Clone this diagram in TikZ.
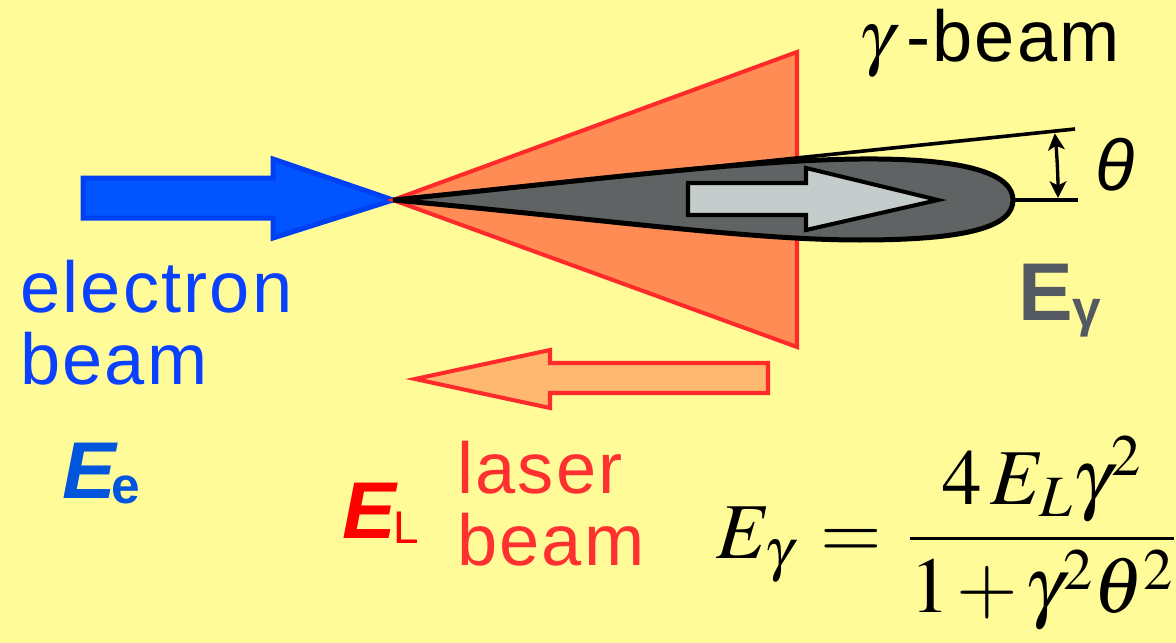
\documentclass[tikz,border=0pt]{standalone}
\usepackage{amsmath}
\usepackage{mathptmx}
\usepackage[no-math]{fontspec}
\newfontfamily\arial[LetterSpace=3]{Liberation Sans}
\newfontfamily\arialsub{Liberation Sans}
\usetikzlibrary{arrows.meta, positioning}

\begin{document}
\begin{tikzpicture}[x=0.72pt, y=-0.72pt,
  txt/.style={inner sep=0pt, anchor=base west},
  grande/.style={font=\arial\fontsize{52}{60}\selectfont}]
% --- cores ---
\definecolor{fundo}{HTML}{FFFB98}
\definecolor{azul}{HTML}{0055FF}
\definecolor{azulborda}{HTML}{0040F5}
\definecolor{azultexto}{HTML}{0A40FF}
\definecolor{azulE}{HTML}{0055DD}
\definecolor{cone}{HTML}{FF8C55}
\definecolor{vermelho}{HTML}{FF2A2A}
\definecolor{lasertexto}{HTML}{FF3030}
\definecolor{laserseta}{HTML}{FFB870}
\definecolor{lobo}{HTML}{5F6363}
\definecolor{setaclara}{HTML}{C5CCCC}
\definecolor{cinzatexto}{HTML}{545860}

% LAYER 0: fundo
\useasboundingbox (0,0) rectangle (1176,643);
\fill[fundo] (0,0) rectangle (1176,643);

\coordinate (apex) at (393,200);
\coordinate (tip) at (1013,200);
\coordinate (thetaend) at (1075,129);
\coordinate (baseend) at (1078,200);

% LAYER 1: feixe de eletrons
\draw[fill=azul, draw=azulborda, line width=3.6pt, line join=miter]
  (83,178) -- (273,178) -- (273,159) -- (apex) -- (273,238) -- (273,218) -- (83,218) -- cycle;

% LAYER 2: cone do laser
\draw[fill=cone, draw=vermelho, line width=2.9pt, line join=miter]
  (apex) -- (797,52) -- (797,347) -- cycle;

% LAYER 3: lobulo gama
\draw[fill=lobo, line width=3.6pt]
  (apex) .. controls (600,179) and (750,160) .. (860,159)
  .. controls (970,158) and (1013,175) .. (tip)
  .. controls (1013,226) and (970,240) .. (860,240)
  .. controls (750,240) and (600,219) .. (apex) -- cycle;
\draw[fill=setaclara, line width=2.9pt, line join=miter]
  (688,183) -- (806,183) -- (806,168) -- (938,200) -- (806,230) -- (806,215) -- (688,215) -- cycle;

% LAYER 4: angulo theta
\draw[line width=2.6pt] (apex) -- (thetaend);
\draw[line width=2.6pt] (tip) -- (baseend);
\draw[line width=2.4pt, {Stealth[length=12pt, width=12pt, inset=3pt]}-{Stealth[length=12pt, width=12pt, inset=3pt]}]
  (1058,198) arc[start angle=0, end angle=-5.6, radius=663];

% LAYER 5: feixe do laser
\draw[fill=laserseta, draw=vermelho, line width=2.9pt, line join=miter]
  (768,363) -- (550,363) -- (550,350) -- (415,379) -- (550,408) -- (550,393) -- (768,393) -- cycle;

% LAYER 6: textos
\node[txt, grande, text=azultexto] (electron) at (20,312) {electron};
\node[txt, grande, text=azultexto] (ebeam) at (20,384) {beam};
\node[txt, grande, text=lasertexto] (laser) at (457,493) {laser};
\node[txt, grande, text=lasertexto] (lbeam) at (457,565) {beam};
\node[txt] (gbeam) at (858,62) {\fontsize{52}{60}\selectfont$\gamma$\hspace{9pt}{\arial -beam}};
\node[txt] (theta) at (1095,190) {\arialsub\itshape\fontsize{52}{60}\selectfont θ};
\node[txt, text=cinzatexto] (Egama) at (1018,320)
  {\arialsub\bfseries\fontsize{59}{60}\selectfont E\raisebox{-5pt}{\fontsize{37}{40}\selectfont γ}};
\node[txt, text=azulE] (Ee) at (62,498)
  {\arialsub\bfseries\fontsize{58}{60}\selectfont\itshape E\kern-3pt\raisebox{-4pt}{\upshape\fontsize{37}{40}\selectfont e}};
\node[txt, text=red] (EL) at (342,538)
  {\arialsub\fontsize{58}{60}\selectfont{\bfseries\itshape E}\kern-2pt\raisebox{-3.6pt}{\fontsize{33}{36}\selectfont L}};
\node[txt] (formula) at (716,558)
  {\fontsize{57}{66}\selectfont $E_{\gamma}\mathrel{\mkern2mu=\mkern2mu}\dfrac{4\,E_{L}\gamma^{2}}{1\mkern-1mu+\mkern-1mu\gamma^{2}\theta^{2}}$};
\end{tikzpicture}
\end{document}
